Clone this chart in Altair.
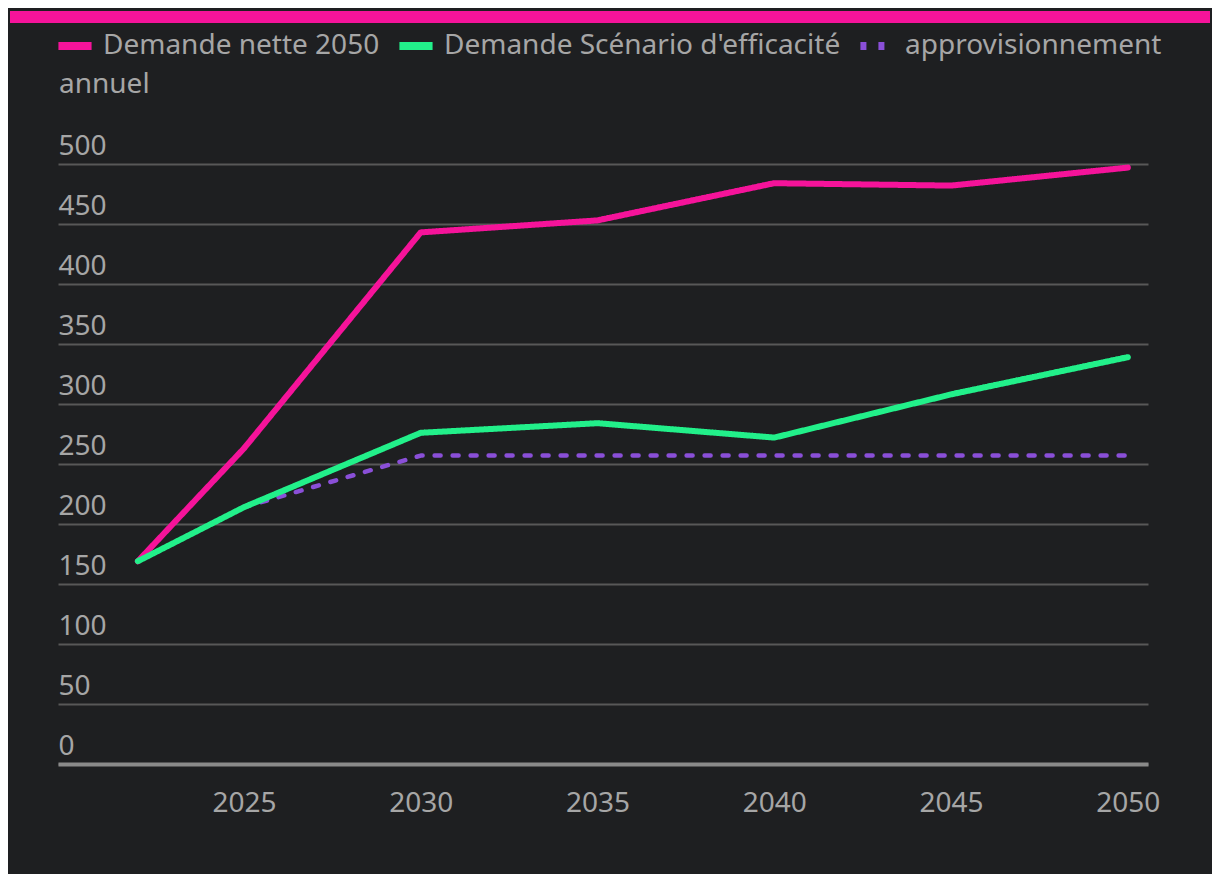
import altair as alt
import pandas as pd

# ---- data ----
years = [2022, 2025, 2030, 2035, 2040, 2045, 2050]
series_names = ["Demande nette 2050", "Demande Scénario d'efficacité", "approvisionnement annuel"]
demande_nette = [169, 263, 443, 453, 484, 482, 497]
demande_efficacite = [169, 214, 276, 284, 272, 308, 339]
approvisionnement = [None, 214, 257, 257, 257, 257, 257]
x_ticks = [2025, 2030, 2035, 2040, 2045, 2050]
y_ticks = [0, 50, 100, 150, 200, 250, 300, 350, 400, 450, 500]

colors = ["#f5139a", "#22f08a", "#8a4fd8"]
dashes = [[1, 0], [1, 0], [6, 12]]

rows = []
for name, vals in zip(series_names, [demande_nette, demande_efficacite, approvisionnement]):
    for yr, v in zip(years, vals):
        if v is not None:
            rows.append({"annee": yr, "valeur": v, "serie": name})
df = pd.DataFrame(rows)

BG = "#1e1f21"
TXT = "#a6a6a6"
FONT = "Noto Sans"
FS = 28

legend_common = dict(orient="none", legendX=-4, legendY=-139, direction="horizontal", title=None)

x_enc = alt.X("annee:Q",
              scale=alt.Scale(domain=[2019.74, 2050.57], nice=False, zero=False),
              axis=alt.Axis(values=x_ticks, format="d", title=None, grid=False, ticks=False,
                            tickSize=0, labelPadding=39, labelBaseline="middle",
                            labelFontSize=FS, labelFont=FONT, labelColor=TXT,
                            domainColor="#8a8a8a", domainWidth=4, labelFlush=False))
y_enc = alt.Y("valeur:Q",
              scale=alt.Scale(domain=[0, 500], nice=False),
              axis=alt.Axis(values=y_ticks, title=None, domain=False, ticks=False, tickSize=0,
                            labelPadding=0, labelAlign="left", labelBaseline="alphabetic",
                            labelOffset=-10, labelFontSize=FS, labelFont=FONT, labelColor=TXT,
                            gridColor="#585858", gridWidth=2))
color_enc = alt.Color("serie:N",
                      scale=alt.Scale(domain=series_names, range=colors),
                      legend=alt.Legend(**legend_common,
                                        symbolType="stroke", symbolSize=1100,
                                        symbolStrokeWidth=8, labelFontSize=FS,
                                        labelFont=FONT, labelColor=TXT, labelOffset=7,
                                        columnPadding=3, labelLimit=700,
                                        labelExpr="datum.label == 'approvisionnement annuel' ? 'approvisionnement' : datum.label"))
dash_enc = alt.StrokeDash("serie:N", scale=alt.Scale(domain=series_names, range=dashes),
                          legend=alt.Legend(**legend_common))

base = alt.Chart(df).encode(x=x_enc, y=y_enc, color=color_enc, strokeDash=dash_enc)

# draw order: pink, purple, green (green on top)
pink = base.transform_filter(alt.datum.serie == series_names[0]).mark_line(
    strokeWidth=6, strokeCap="round", strokeJoin="round")
purple = base.transform_filter(alt.datum.serie == series_names[2]).mark_line(
    strokeWidth=4.5, strokeCap="round", strokeJoin="round")
green = base.transform_filter(alt.datum.serie == series_names[1]).mark_line(
    strokeWidth=6, strokeCap="round", strokeJoin="round")

annuel = alt.Chart(pd.DataFrame({"t": ["annuel"]})).mark_text(
    align="left", baseline="middle", font=FONT, fontSize=FS, color=TXT
).encode(x=alt.value(1), y=alt.value(-79), text="t:N")

bar = alt.Chart(pd.DataFrame({"k": [0]})).mark_rule(color="#f5139a", strokeWidth=12).encode(
    x=alt.value(-48), x2=alt.value(1152), y=alt.value(-147)
)

chart = alt.layer(bar, pink, purple, green, annuel).properties(
    width=1090, height=600,
    background=BG,
    padding={"left": 50, "top": 156, "right": 64, "bottom": 110},
    autosize=alt.AutoSizeParams(type="none"),
).configure_view(stroke=None)

chart.save("out.html", embed_options={"renderer": "svg", "actions": False})
